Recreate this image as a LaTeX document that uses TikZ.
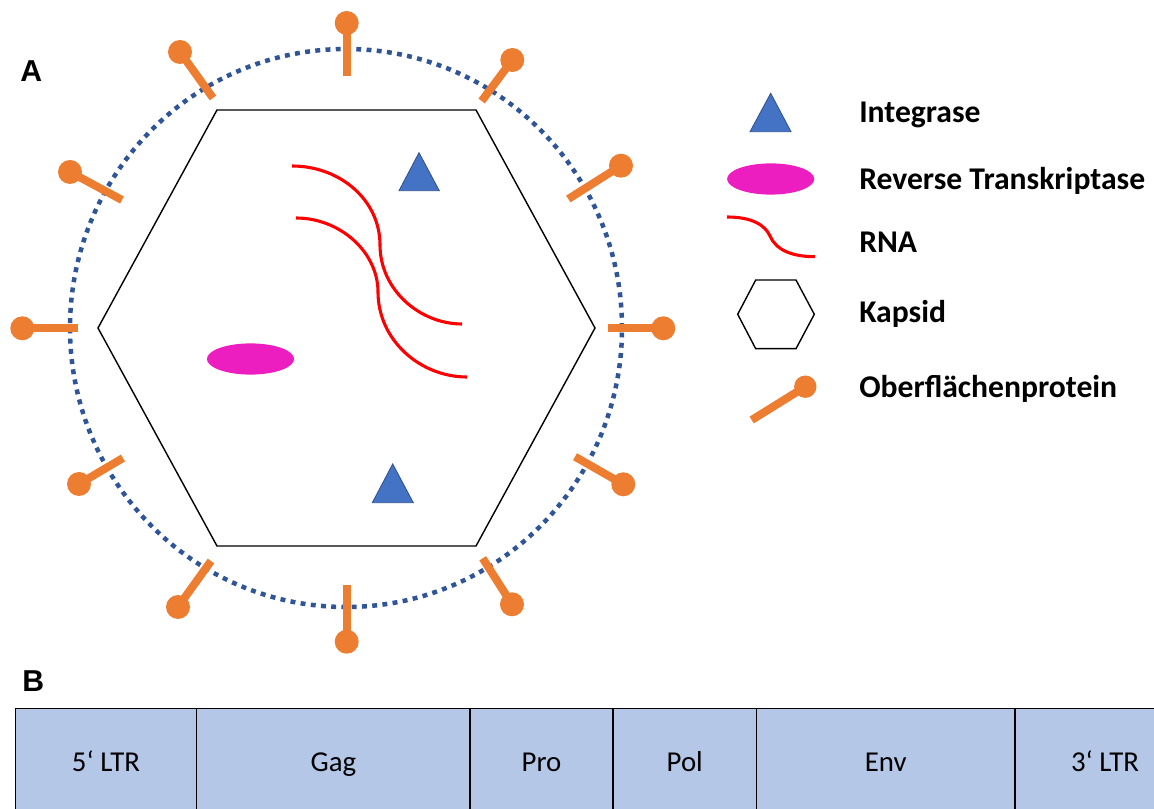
\documentclass[tikz,border=0pt]{standalone}
\usepackage{fontspec}
\setmainfont{Carlito}
\newfontfamily\panelfont{Liberation Sans}
\usepackage{tikz}
\definecolor{envblue}{HTML}{2F5597}
\definecolor{intblue}{HTML}{4472C4}
\definecolor{intedge}{HTML}{2F528F}
\definecolor{rtpink}{RGB}{237,30,192}
\definecolor{protorange}{HTML}{ED7D31}
\definecolor{genefill}{HTML}{B4C7E7}
\tikzset{%
    spike/.style={protorange, line width=5.7pt},
    knob/.style={fill=protorange},
    integrase/.style={fill=intblue, draw=intedge, line width=0.6pt},
    rna/.style={red, line width=2.2pt},
    legendtext/.style={anchor=base west, inner sep=0pt,
        font=\fontsize{22.5}{27}\selectfont\bfseries},
    panel/.style={anchor=base west, inner sep=0pt,
        font=\panelfont\fontsize{21.5}{26}\selectfont\bfseries},
    gene/.style={fill=genefill, draw=black, line width=1.1pt},
    genetext/.style={anchor=base, inner sep=0pt,
        font=\fontsize{20.5}{25}\selectfont}
}

\begin{document}
\begin{tikzpicture}[x=0.25mm,y=-0.25mm]
\useasboundingbox (0,0) rectangle (1154,809);
\clip (0,0) rectangle (1154,809);

% virus particle
\draw[envblue, line width=3.2pt, dash pattern=on 3.5pt off 3.8pt]
    (346,328) ellipse [x radius=69mm, y radius=69.75mm];
\foreach \xa/\ya/\xb/\yb in {346.7/76/346.7/23, 481.7/101/512.3/60,
    568.3/199/621/165.7, 608.3/328.3/663.3/328.3, 575/456.7/623.3/484.3,
    482.7/558.3/512/604.3, 346.7/585/346.7/641.7, 211/561/178/607,
    123/458/79/484, 78.3/328.3/22.3/328.3, 122/200/70/172, 213/98/180/52}
{
    \draw[spike] (\xa,\ya) -- (\xb,\yb);
    \fill[knob] (\xb,\yb) circle (3mm);
}
\draw[line width=1pt] (98,328) -- (217,110) -- (476,110) -- (595,328)
    -- (476,546) -- (217,546) -- cycle;
\draw[rna] (292,166) .. controls (340,166) and (380,200) .. (380,245)
    .. controls (380,290) and (420,324) .. (462,324);
\draw[rna] (296,218) .. controls (340,218) and (378,252) .. (378,292)
    .. controls (378,340) and (420,377) .. (467,377);
\fill[rtpink] (250.5,359) ellipse [x radius=10.9mm, y radius=3.9mm];
\filldraw[integrase] (399,190.7) -- (419,152.7) -- (439.3,190.7) -- cycle;
\filldraw[integrase] (372.3,502.7) -- (392.7,464) -- (413.3,502.7) -- cycle;

% legend
\filldraw[integrase] (750,131.7) -- (770.7,93.3) -- (791,131.7) -- cycle;
\fill[rtpink] (770.7,179) ellipse [x radius=10.9mm, y radius=3.9mm];
\draw[rna] (727,217) .. controls (752,217) and (765,225) .. (770,236)
    .. controls (776,250) and (792,256.7) .. (815,256.7);
\draw[line width=1pt] (737.7,314.3) -- (755.7,280) -- (796,280) -- (814.3,314.3)
    -- (796,348.7) -- (755.7,348.7) -- cycle;
\draw[spike] (751.7,420) -- (805.3,386.7);
\fill[knob] (805.3,386.7) circle (2.8mm);

\node[legendtext] (int) at (859,122.7) {Integrase};
\node[legendtext] (rt) at (859,189.3) {Reverse Transkriptase};
\node[legendtext] (rna) at (859,252.5) {RNA};
\node[legendtext] (kap) at (859,322.5) {Kapsid};
\node[legendtext] (ofp) at (859,397.8) {Oberflächenprotein};

% genome
\foreach \xl/\xr/\gname [count=\i] in {15.3/196.7/5‘ LTR, 196.7/470/Gag,
    470/613/Pro, 613/756.5/Pol, 756.5/1015/Env, 1015/1195/3‘ LTR}
{
    \draw[gene] (\xl,708.3) rectangle (\xr,817);
    \node[genetext] (gene\i) at ({(\xl+\xr)/2},771.7) {\gname};
}

\node[panel] (pa) at (20,81.7) {A};
\node[panel] (pb) at (22,691) {B};
\end{tikzpicture}
\end{document}
